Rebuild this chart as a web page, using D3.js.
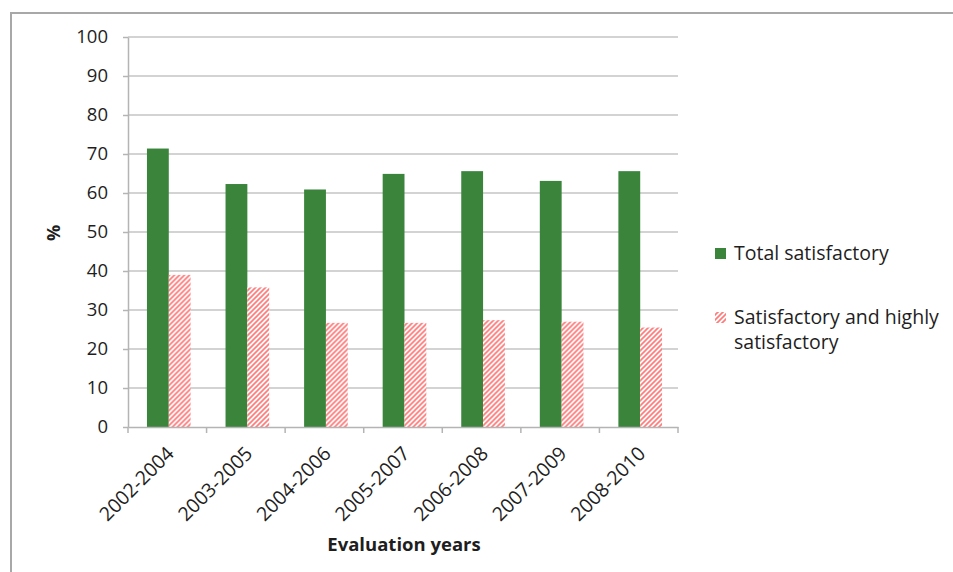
<!DOCTYPE html>
<html>
<head>
<meta charset="utf-8">
<script src="https://cdn.jsdelivr.net/npm/d3@7/dist/d3.min.js"></script>
<style>
  html, body { margin: 0; padding: 0; background: #ffffff; }
  svg { display: block; font-family: "Open Sans", Lato, sans-serif; }
</style>
</head>
<body>
<svg id="chart" width="953" height="572"></svg>
<script>
// Evaluation periods and the share of projects rated in each group (%)
const categories = ["2002-2004", "2003-2005", "2004-2006", "2005-2007", "2006-2008", "2007-2009", "2008-2010"];
const totalSatisfactory = [71.4, 62.3, 60.9, 64.9, 65.6, 63.1, 65.6];
const highlySatisfactory = [39.0, 35.8, 26.7, 26.7, 27.4, 27.0, 25.5];
const seriesNames = ["Total satisfactory", "Satisfactory and highly satisfactory"];
const yTicks = [0, 10, 20, 30, 40, 50, 60, 70, 80, 90, 100];

const green = "#3a843c";
const pink = "#ff7a7a";
const textColor = "#1e1e1e";

const svg = d3.select("#chart");

// Diagonal hatch for the second series
const defs = svg.append("defs");
const pat = defs.append("pattern")
  .attr("id", "hatch")
  .attr("patternUnits", "userSpaceOnUse")
  .attr("width", 5).attr("height", 5);
pat.append("rect").attr("width", 5).attr("height", 5).attr("fill", "#ffffff");
pat.append("path")
  .attr("d", "M-1.25,1.25 L1.25,-1.25 M0,5 L5,0 M3.75,6.25 L6.25,3.75")
  .attr("stroke", pink).attr("stroke-width", 1.7);

// Outer frame
svg.append("rect")
  .attr("x", 11).attr("y", 13)
  .attr("width", 960).attr("height", 580)
  .attr("fill", "#ffffff")
  .attr("stroke", "#a8a8a8").attr("stroke-width", 2);

const plotLeft = 128, plotRight = 678, plotTop = 37, plotBottom = 427;

const x = d3.scaleBand().domain(categories).range([plotLeft, plotRight]).padding(0);
const x1 = d3.scaleBand().domain(seriesNames).range([0, x.bandwidth()]).paddingInner(0).paddingOuter(0.8);
const y = d3.scaleLinear().domain([0, 100]).range([plotBottom, plotTop]);

// Gridlines
svg.append("g")
  .selectAll("line")
  .data(yTicks.filter(d => d > 0))
  .join("line")
  .attr("x1", plotLeft).attr("x2", plotRight)
  .attr("y1", d => y(d)).attr("y2", d => y(d))
  .attr("stroke", "#c4c4c4").attr("stroke-width", 1.5);

// Bars
const rows = categories.map((c, i) => ({ c, vals: [totalSatisfactory[i], highlySatisfactory[i]] }));
const groups = svg.append("g").selectAll("g")
  .data(rows)
  .join("g")
  .attr("transform", d => `translate(${x(d.c) + 1.5},0)`);
groups.selectAll("rect")
  .data(d => d.vals.map((v, k) => ({ k, v })))
  .join("rect")
  .attr("x", d => x1(seriesNames[d.k]))
  .attr("width", x1.bandwidth())
  .attr("y", d => y(d.v))
  .attr("height", d => y(0) - y(d.v))
  .attr("fill", d => d.k === 0 ? green : "url(#hatch)");

// Y axis
const yAxis = svg.append("g")
  .attr("transform", `translate(${plotLeft},0)`)
  .call(d3.axisLeft(y).tickValues(yTicks).tickSize(5).tickPadding(15).tickSizeOuter(0));
yAxis.select(".domain").attr("stroke", "#b4b4b4").attr("stroke-width", 1.5);
yAxis.selectAll(".tick line").attr("stroke", "#b4b4b4").attr("stroke-width", 1.5);
yAxis.selectAll(".tick text").attr("font-size", 18.5).attr("fill", textColor).attr("font-family", "'Open Sans', sans-serif");

// X axis
const xAxis = svg.append("g")
  .attr("transform", `translate(0,${plotBottom})`)
  .call(d3.axisBottom(x).tickSize(0).tickFormat(""));
xAxis.select(".domain").attr("stroke", "#b4b4b4").attr("stroke-width", 1.5);
xAxis.selectAll(".tick").remove();
const edges = categories.map(c => x(c)).concat([x.range()[1]]);
svg.append("g").selectAll("line")
  .data(edges)
  .join("line")
  .attr("x1", d => d).attr("x2", d => d)
  .attr("y1", plotBottom).attr("y2", plotBottom + 6)
  .attr("stroke", "#b4b4b4").attr("stroke-width", 1.5);

svg.append("g").selectAll("text")
  .data(categories)
  .join("text")
  .attr("transform", d => `translate(${x(d) + x.bandwidth() / 2 + 3},${plotBottom + 23}) rotate(-45)`)
  .attr("text-anchor", "end")
  .attr("dy", "0.35em")
  .attr("font-size", 19.5)
  .attr("fill", textColor)
  .text(d => d);

// Axis titles
svg.append("text")
  .attr("x", 404).attr("y", 551)
  .attr("text-anchor", "middle")
  .attr("font-size", 18.5).attr("font-weight", "bold").attr("fill", textColor)
  .text("Evaluation years");

svg.append("text")
  .attr("transform", "translate(60,233) rotate(-90)")
  .attr("text-anchor", "middle")
  .attr("font-size", 18).attr("font-weight", "bold").attr("fill", textColor)
  .text("%");

// Legend
const legend = svg.append("g");
legend.append("rect").attr("x", 715).attr("y", 248).attr("width", 11).attr("height", 11).attr("fill", green);
legend.append("text").attr("x", 734).attr("y", 260).attr("font-size", 19.5).attr("fill", textColor).text(seriesNames[0]);
legend.append("rect").attr("x", 715).attr("y", 312).attr("width", 11).attr("height", 11).attr("fill", "url(#hatch)");
const t2 = legend.append("text").attr("x", 734).attr("y", 324).attr("font-size", 19.5).attr("fill", textColor);
t2.append("tspan").attr("x", 734).text("Satisfactory and highly");
t2.append("tspan").attr("x", 734).attr("dy", 25).text("satisfactory");
</script>
</body>
</html>
